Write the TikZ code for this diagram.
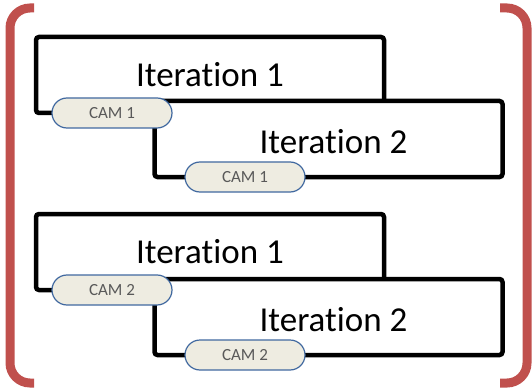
\documentclass[tikz,border=0pt]{standalone}
\usepackage{fontspec}
\setmainfont{Carlito}[Ligatures=NoCommon]
\usetikzlibrary{shapes.misc}

\begin{document}
\begin{tikzpicture}[x=1pt,y=1pt,yscale=-1,xscale=1]

% --- CONFIGURATION ---
\definecolor{camfill}{RGB}{238, 236, 225} % Light Beige
\definecolor{camline}{RGB}{65, 105, 160}  % Blue Outline
\definecolor{camtext}{RGB}{89, 89, 89}    % Dark Gray
\definecolor{bracketred}{RGB}{192, 80, 77} % Soft Red
\tikzset{
  iterbox/.style={draw=black, fill=white, line width=4.5pt, rounded corners=3pt,
    minimum width=348pt, minimum height=76pt, inner sep=0pt,
    font=\fontsize{35}{40}\selectfont},
  iterboxlow/.style={iterbox, text height=30pt},
  cambox/.style={draw=camline, fill=camfill, line width=1.2pt, rounded rectangle,
    minimum width=120pt, minimum height=30pt, inner sep=0pt, text=camtext,
    font=\fontsize{17}{20}\selectfont},
  bracket/.style={draw=bracketred, line width=9pt, rounded corners=20pt}
}
\useasboundingbox (0,0) rectangle (532,390);

% --- BRACKETS ---
\draw[bracket] (34,8) -- (10,8) -- (10,383) -- (34,383);
\draw[bracket] (500,8) -- (527,8) -- (527,383) -- (500,383);

% --- UPPER GROUP (CAM 1) ---
\node[iterbox] (iterA1) at (210, 75) {Iteration 1};
\node[iterboxlow] (iterA2) at (328.5, 139) {\hspace*{10pt}Iteration 2};
\node[cambox] (camA1) at (112, 113) {CAM 1};
\node[cambox] (camA2) at (245, 177) {CAM 1};

% --- LOWER GROUP (CAM 2) ---
\node[iterbox] (iterB1) at (210, 252) {Iteration 1};
\node[iterboxlow] (iterB2) at (328.5, 317) {\hspace*{10pt}Iteration 2};
\node[cambox] (camB1) at (112, 290) {CAM 2};
\node[cambox] (camB2) at (245, 355) {CAM 2};

\end{tikzpicture}
\end{document}
